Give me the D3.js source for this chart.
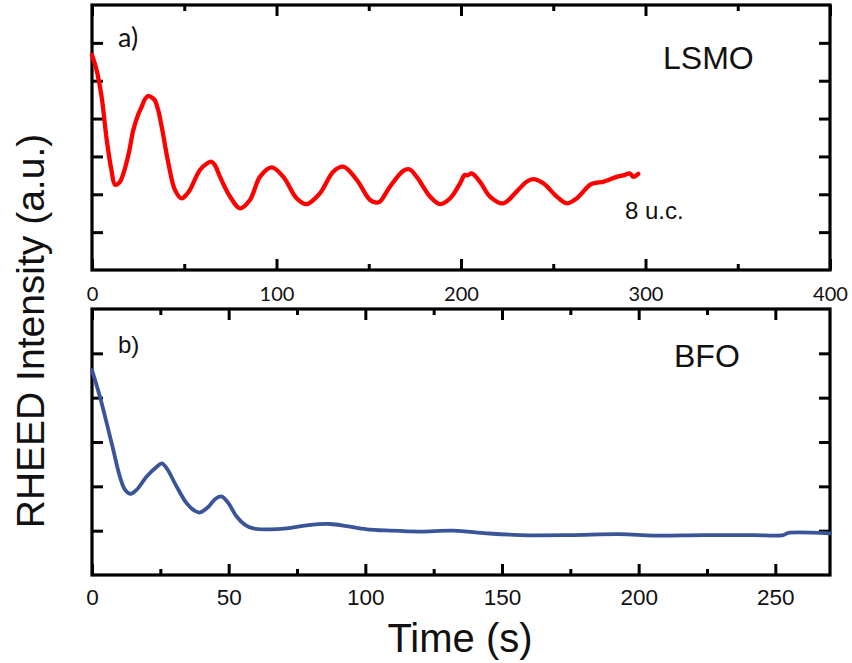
<!DOCTYPE html>
<html>
<head>
<meta charset="utf-8">
<script src="https://cdn.jsdelivr.net/npm/d3@7"></script>
<style>
  html, body { margin: 0; padding: 0; background: #fff; }
  svg { display: block; }
</style>
</head>
<body>
<svg id="chart" width="852" height="663"></svg>
<script>
// LSMO growth: RHEED intensity vs time (s)
const lsmoTime = [0, 2.5, 5.2, 8, 10.5, 12.5, 15, 17, 20, 22.4, 25, 26.9, 28.8, 30.5, 32.3, 34, 36, 37.8, 41.4, 45, 48.6, 51, 53, 58.5, 62.5, 64.8, 66.5, 69.4, 74.8, 80.2, 85.6, 91, 97.4, 103.7, 111, 116.3, 123.6, 130.8, 136.2, 143.5, 150.7, 154.3, 156, 161.5, 168.7, 172, 176, 183.2, 188.6, 194, 199.5, 202, 203.5, 205.8, 210.3, 215.7, 222.9, 230.1, 235.5, 239.2, 244.6, 251.9, 257.3, 262.7, 269.9, 273, 277.1, 280, 284.4, 288, 291.6, 293.4, 296.1];
const lsmoValue = [5.68, 5.28, 4.58, 3.43, 2.65, 2.25, 2.32, 2.55, 3.1, 3.70, 4.1, 4.31, 4.52, 4.60, 4.56, 4.49, 4.2, 3.78, 2.82, 2.11, 1.89, 1.98, 2.11, 2.64, 2.82, 2.86, 2.78, 2.46, 1.94, 1.63, 1.85, 2.46, 2.71, 2.46, 1.89, 1.74, 2.03, 2.60, 2.73, 2.38, 1.85, 1.78, 1.80, 2.2, 2.62, 2.66, 2.46, 1.94, 1.74, 1.89, 2.29, 2.51, 2.50, 2.55, 2.33, 1.94, 1.76, 2.07, 2.33, 2.40, 2.29, 1.94, 1.76, 1.89, 2.25, 2.30, 2.33, 2.38, 2.46, 2.50, 2.55, 2.46, 2.54];

// BFO growth: RHEED intensity vs time (s)
const bfoTime = [0, 2.9, 5.4, 7.8, 10.2, 12.1, 14.1, 16.3, 20, 23.7, 25.5, 27.3, 31, 34.6, 37.5, 39.5, 42.6, 45, 47.5, 49.9, 52.9, 56, 59, 63.9, 71.2, 78.6, 87.1, 93.2, 100.5, 109, 120, 132.2, 144.4, 156.6, 174.9, 193.2, 205.4, 223.6, 241.9, 252.9, 254.8, 270];
const bfoValue = [4.62, 4.02, 3.42, 2.82, 2.22, 1.92, 1.83, 1.92, 2.22, 2.44, 2.52, 2.41, 1.99, 1.62, 1.45, 1.41, 1.54, 1.71, 1.77, 1.62, 1.32, 1.13, 1.05, 1.03, 1.05, 1.12, 1.15, 1.10, 1.03, 1.00, 0.98, 1.00, 0.94, 0.90, 0.90, 0.92, 0.89, 0.90, 0.90, 0.90, 0.95, 0.94];

// Axis ticks
const topMajorX = [0, 100, 200, 300, 400];
const topMinorX = [50, 150, 250, 350];
const topYTicks = [1, 2, 3, 4, 5, 6];
const bottomMajorX = [0, 50, 100, 150, 200, 250];
const bottomMinorX = [25, 75, 125, 175, 225];
const bottomYTicks = [1, 2, 3, 4, 5];

const svg = d3.select("#chart");
const left = 92, right = 830;
const MAJOR = 11, MINOR = 6;

function panel(cfg) {
  const x = d3.scaleLinear().domain(cfg.xDomain).range([left, right]);
  const y = d3.scaleLinear().domain(cfg.yDomain).range([cfg.bottom, cfg.top]);
  const g = svg.append("g");

  const tickAxis = (axis, sel) => {
    sel.call(axis);
    sel.select(".domain").remove();
    sel.selectAll("line").attr("stroke", "#000").attr("stroke-width", 3);
  };

  // inward major/minor ticks on all four sides
  [[d3.axisBottom, cfg.bottom], [d3.axisTop, cfg.top]].forEach(([fn, pos]) => {
    tickAxis(fn(x).tickValues(cfg.majorX).tickSize(-MAJOR).tickFormat(""),
      g.append("g").attr("transform", `translate(0,${pos})`));
    tickAxis(fn(x).tickValues(cfg.minorX).tickSize(-MINOR).tickFormat(""),
      g.append("g").attr("transform", `translate(0,${pos})`));
  });
  tickAxis(d3.axisLeft(y).tickValues(cfg.yTicks).tickSize(-MAJOR).tickFormat(""),
    g.append("g").attr("transform", `translate(${left},0)`));
  tickAxis(d3.axisRight(y).tickValues(cfg.yTicks).tickSize(-MAJOR).tickFormat(""),
    g.append("g").attr("transform", `translate(${right},0)`));

  // tick labels
  const lab = g.append("g").attr("transform", `translate(0,${cfg.bottom})`)
    .call(d3.axisBottom(x).tickValues(cfg.majorX).tickSize(0).tickPadding(cfg.labelPad).tickFormat(d3.format("d")));
  lab.select(".domain").remove();
  lab.selectAll("text")
    .attr("font-family", cfg.labelFont)
    .attr("font-size", cfg.labelSize)
    .attr("fill", "#111");

  // frame
  g.append("rect")
    .attr("x", left).attr("y", cfg.top)
    .attr("width", right - left).attr("height", cfg.bottom - cfg.top)
    .attr("fill", "none").attr("stroke", "#000").attr("stroke-width", 3.2);

  // data line
  const line = d3.line()
    .x((d, i) => x(cfg.t[i]))
    .y(d => y(d))
    .curve(d3.curveCatmullRom.alpha(0.5));
  g.append("path")
    .datum(cfg.v)
    .attr("d", line)
    .attr("fill", "none")
    .attr("stroke", cfg.color)
    .attr("stroke-width", cfg.width)
    .attr("stroke-linejoin", "round")
    .attr("stroke-linecap", "round");
  return g;
}

panel({
  xDomain: [0, 400], yDomain: [0, 7], top: 5, bottom: 270,
  majorX: topMajorX, minorX: topMinorX, yTicks: topYTicks,
  labelFont: "Lato, 'Open Sans', sans-serif", labelSize: 20, labelPad: 17,
  t: lsmoTime, v: lsmoValue, color: "#ff0000", width: 4.3
});

panel({
  xDomain: [0, 270], yDomain: [0, 6], top: 309, bottom: 575,
  majorX: bottomMajorX, minorX: bottomMinorX, yTicks: bottomYTicks,
  labelFont: "'Liberation Sans', Arial, sans-serif", labelSize: 22.5, labelPad: 14,
  t: bfoTime, v: bfoValue, color: "#3a5597", width: 3.8
});

const sans = "'Liberation Sans', Arial, sans-serif";

// panel annotations
svg.append("text").attr("x", 118).attr("y", 47)
  .attr("font-family", "Lato, 'Open Sans', sans-serif").attr("font-size", 27)
  .attr("fill", "#111").text("a)");
svg.append("text").attr("x", 663).attr("y", 69)
  .attr("font-family", sans).attr("font-size", 32).attr("fill", "#111").text("LSMO");
svg.append("text").attr("x", 625).attr("y", 219)
  .attr("font-family", sans).attr("font-size", 24).attr("fill", "#111").text("8 u.c.");

svg.append("text").attr("x", 118).attr("y", 353)
  .attr("font-family", sans).attr("font-size", 24).attr("fill", "#111").text("b)");
svg.append("text").attr("x", 674).attr("y", 367)
  .attr("font-family", sans).attr("font-size", 32).attr("fill", "#111").text("BFO");

// axis titles
svg.append("text").attr("x", 460).attr("y", 652)
  .attr("text-anchor", "middle")
  .attr("font-family", sans).attr("font-size", 40).attr("fill", "#111")
  .text("Time (s)");
svg.append("text")
  .attr("transform", "translate(44,331) rotate(-90)")
  .attr("text-anchor", "middle")
  .attr("font-family", sans).attr("font-size", 39).attr("fill", "#111")
  .text("RHEED Intensity (a.u.)");
</script>
</body>
</html>
